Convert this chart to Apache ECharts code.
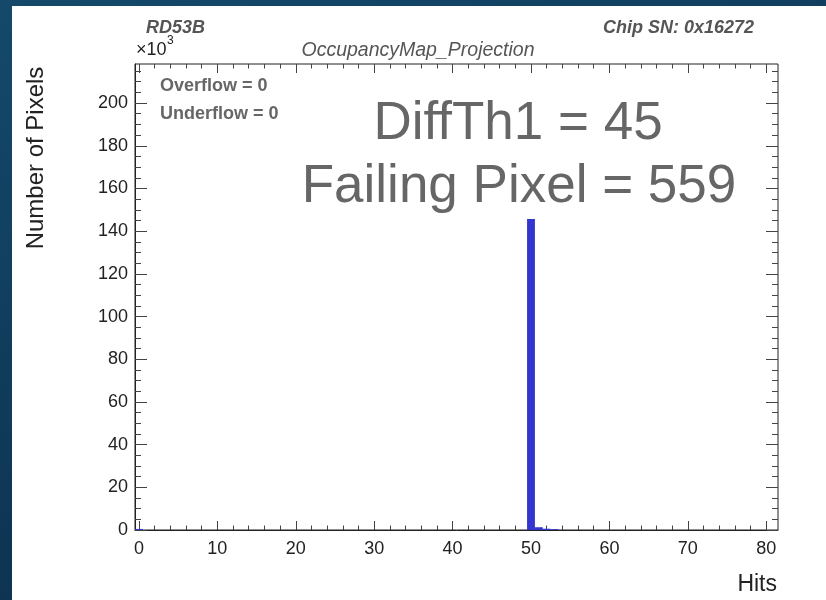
<!DOCTYPE html>
<html>
<head>
<meta charset="utf-8">
<script src="https://cdn.jsdelivr.net/npm/echarts@6/dist/echarts.min.js"></script>
<style>
  html, body { margin: 0; padding: 0; }
  body { background: linear-gradient(160deg, #14496b 0%, #0e3654 60%, #0b2c47 100%); }
  #chart { width: 826px; height: 600px; }
</style>
</head>
<body>
<div id="chart"></div>
<script>
// histogram bins (bin centre in hits, pixel count)
const binCenters = [0, 50, 51, 52, 53];
const binCounts = [500, 145700, 1300, 600, 400];

const xMajorTicks = [0, 10, 20, 30, 40, 50, 60, 70, 80];
const xMinorTicks = [0, 2, 4, 6, 8, 10, 12, 14, 16, 18, 20, 22, 24, 26, 28, 30, 32, 34, 36, 38, 40,
  42, 44, 46, 48, 50, 52, 54, 56, 58, 60, 62, 64, 66, 68, 70, 72, 74, 76, 78, 80];
const yMajorTicks = [0, 20000, 40000, 60000, 80000, 100000, 120000, 140000, 160000, 180000, 200000];
const yMinorTicks = [0, 5000, 10000, 15000, 20000, 25000, 30000, 35000, 40000, 45000, 50000, 55000,
  60000, 65000, 70000, 75000, 80000, 85000, 90000, 95000, 100000, 105000, 110000, 115000, 120000,
  125000, 130000, 135000, 140000, 145000, 150000, 155000, 160000, 165000, 170000, 175000, 180000,
  185000, 190000, 195000, 200000, 205000, 210000, 215000];

const chart = echarts.init(document.getElementById('chart'));
const font = 'Liberation Sans, Arial, Helvetica, sans-serif';
const X_MIN = -0.5, X_MAX = 81.5, Y_MAX = 218300;

function xAxis(position, ticks, len, labels) {
  return {
    type: 'value', position: position, min: X_MIN, max: X_MAX,
    axisLine: { show: labels, onZero: false, lineStyle: { color: '#222', width: 1 } },
    axisTick: { show: true, inside: true, length: len, customValues: ticks, lineStyle: { color: '#444', width: 1 } },
    axisLabel: {
      show: labels, customValues: xMajorTicks, margin: 10,
      color: '#222', fontSize: 18, fontFamily: font
    },
    splitLine: { show: false }
  };
}
function yAxis(position, ticks, len, labels) {
  return {
    type: 'value', position: position, min: 0, max: Y_MAX,
    axisLine: { show: labels, onZero: false, lineStyle: { color: '#222', width: 1 } },
    axisTick: { show: true, inside: true, length: len, customValues: ticks, lineStyle: { color: '#444', width: 1 } },
    axisLabel: {
      show: labels, customValues: yMajorTicks, margin: 7,
      color: '#222', fontSize: 18, fontFamily: font,
      formatter: (v) => String(v / 1000)
    },
    splitLine: { show: false }
  };
}

chart.setOption({
  animation: false,
  backgroundColor: 'transparent',
  grid: { left: 135, right: 48, top: 64, bottom: 70, show: true, borderColor: '#222', borderWidth: 1, backgroundColor: '#fff' },
  xAxis: [
    xAxis('bottom', xMajorTicks, 9, true),
    xAxis('bottom', xMinorTicks, 4.5, false),
    xAxis('top', xMajorTicks, 9, false),
    xAxis('top', xMinorTicks, 4.5, false)
  ],
  yAxis: [
    yAxis('left', yMajorTicks, 12, true),
    yAxis('left', yMinorTicks, 6, false),
    yAxis('right', yMajorTicks, 12, false),
    yAxis('right', yMinorTicks, 6, false)
  ],
  graphic: [
    { type: 'rect', z: -10, silent: true, shape: { x: 12, y: 6, width: 814, height: 594 }, style: { fill: '#fff' } },
    { type: 'text', x: 146, y: 28, style: { text: 'RD53B', fill: '#555', font: 'italic bold 18px ' + font, verticalAlign: 'middle' } },
    { type: 'text', x: 754, y: 28, style: { text: 'Chip SN: 0x16272', fill: '#555', font: 'italic bold 18px ' + font, align: 'right', verticalAlign: 'middle' } },
    { type: 'text', x: 136, y: 50, style: { text: '×10', fill: '#222', font: '18px ' + font, verticalAlign: 'middle' } },
    { type: 'text', x: 167, y: 41, style: { text: '3', fill: '#222', font: '12px ' + font, verticalAlign: 'middle' } },
    { type: 'text', x: 418, y: 51, style: { text: 'OccupancyMap_Projection', fill: '#555', font: 'italic 19.5px ' + font, align: 'center', verticalAlign: 'middle' } },
    { type: 'text', x: 160, y: 86, style: { text: 'Overflow = 0', fill: '#666', font: 'bold 18px ' + font, verticalAlign: 'middle' } },
    { type: 'text', x: 160, y: 114, style: { text: 'Underflow = 0', fill: '#666', font: 'bold 18px ' + font, verticalAlign: 'middle' } },
    { type: 'text', x: 518, y: 124, style: { text: 'DiffTh1 = 45', fill: '#666', font: '53px ' + font, align: 'center', verticalAlign: 'middle' } },
    { type: 'text', x: 519, y: 187, style: { text: 'Failing Pixel = 559', fill: '#666', font: '53px ' + font, align: 'center', verticalAlign: 'middle' } },
    { type: 'text', x: 36, y: 158, rotation: Math.PI / 2, style: { text: 'Number of Pixels', fill: '#222', font: '24px ' + font, align: 'center', verticalAlign: 'middle' } },
    { type: 'text', x: 777, y: 585, style: { text: 'Hits', fill: '#222', font: '23px ' + font, align: 'right', verticalAlign: 'middle' } }
  ],
  series: [{
    type: 'custom',
    xAxisIndex: 0, yAxisIndex: 0,
    encode: { x: 0, y: 1 },
    data: binCenters.map((c, i) => [c, binCounts[i]]),
    renderItem: function (params, api) {
      const c = api.value(0), v = api.value(1);
      const p0 = api.coord([c - 0.5, v]);
      const p1 = api.coord([c + 0.5, 0]);
      return {
        type: 'rect',
        shape: { x: p0[0], y: p0[1], width: p1[0] - p0[0], height: p1[1] - p0[1] },
        style: { fill: '#3434cf' }
      };
    }
  }]
});
</script>
</body>
</html>
